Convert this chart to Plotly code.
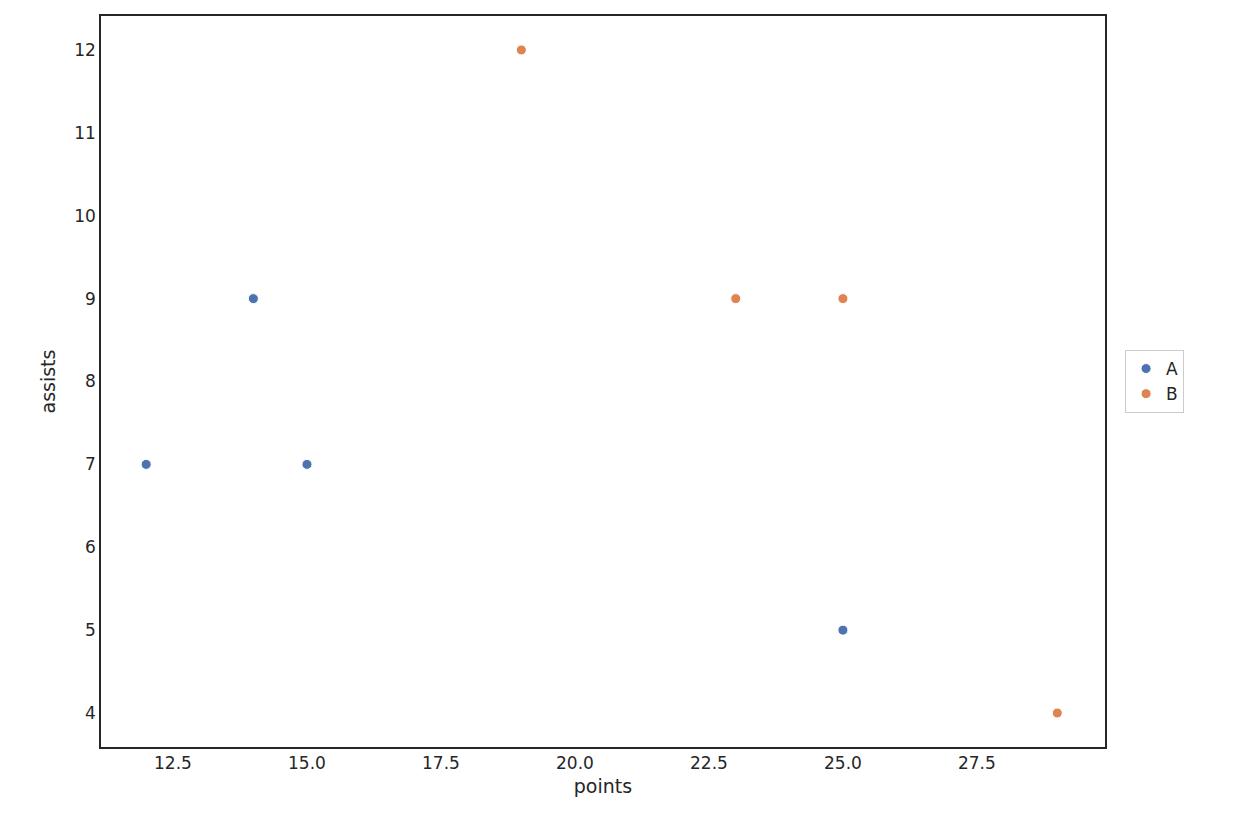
import plotly.graph_objects as go

teams = ["A", "B"]
points_a = [12, 14, 15, 25]
assists_a = [7, 9, 7, 5]
points_b = [19, 23, 25, 29]
assists_b = [12, 9, 9, 4]
colors = ["#4c72b0", "#dd8452"]

fig = go.Figure()
for name, xs, ys, c in zip(teams, [points_a, points_b], [assists_a, assists_b], colors):
    fig.add_trace(go.Scatter(x=xs, y=ys, mode="markers", name=name,
                             marker=dict(color=c, size=10, line=dict(color="white", width=1))))

axis_common = dict(showgrid=False, zeroline=False, showline=True, linecolor="#262626",
                   linewidth=1.5, mirror=True, ticks="", tickfont=dict(size=17, color="#262626"),
                   title_font=dict(size=19, color="#262626"))
fig.update_xaxes(range=[11.157, 29.89], tickvals=[12.5, 15, 17.5, 20, 22.5, 25, 27.5],
                 ticktext=["12.5", "15.0", "17.5", "20.0", "22.5", "25.0", "27.5"],
                 title_text="points", title_standoff=8, **axis_common)
fig.update_yaxes(range=[3.59, 12.41], dtick=1, title_text="assists", title_standoff=14, **axis_common)
fig.update_layout(width=1225, height=821, plot_bgcolor="white", paper_bgcolor="white",
                  margin=dict(l=93, r=128, t=6, b=82),
                  font=dict(family="DejaVu Sans"),
                  legend=dict(x=1.02, y=0.5, xanchor="left", yanchor="middle",
                              bordercolor="#cccccc", borderwidth=1,
                              font=dict(size=17, color="#262626")))
fig.write_html("out.html")
